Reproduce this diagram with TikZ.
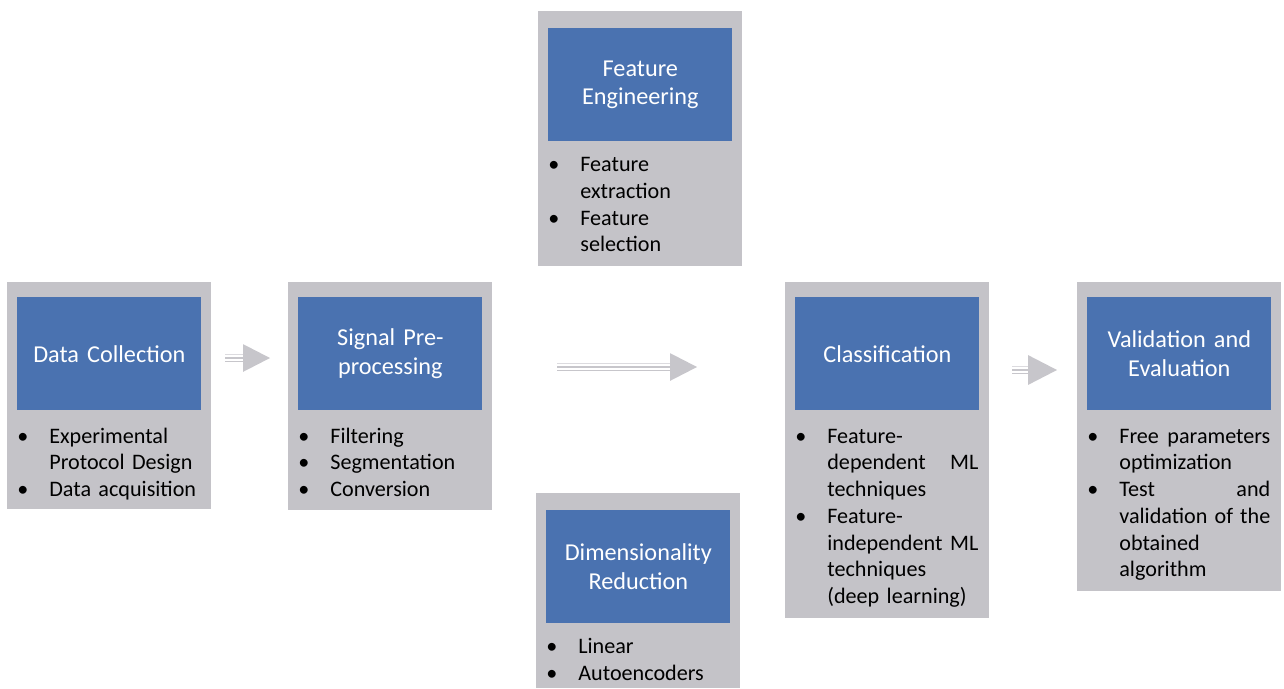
\documentclass[tikz,border=0pt]{standalone}
\usepackage{fontspec}
\setmainfont{Carlito}
\usepackage{xcolor}
\definecolor{stagegrey}{HTML}{C4C3C8}
\definecolor{stageblue}{HTML}{4A72B0}
\definecolor{arrowgrey}{HTML}{C7C6CB}
\definecolor{stripelight}{HTML}{DCDBDF}
\usetikzlibrary{positioning}

% bullet entry, text kept in its own justified column
\newcommand{\bitem}[1]{\par\lineskip=0pt\relax\noindent
  \makebox[0.64cm][l]{\textbullet}\parbox[t]{3.02cm}{\strut#1\strut}\par}
% striped block arrow: tail, tip, head length, head half height
\newcommand{\stripearrow}[4]{%
  \draw[stripe top] ([yshift=2pt]#1) -- ([xshift=-#3,yshift=2pt]#2);
  \draw[stripe] (#1) -- ([xshift=-#3]#2);
  \draw[stripe] ([yshift=-2pt]#1) -- ([xshift=-#3,yshift=-2pt]#2);
  \fill[arrowgrey] (#2) -- ([xshift=-#3,yshift=#4]#2) -- ([xshift=-#3,yshift=-#4]#2) -- cycle;}

\begin{document}
\begin{tikzpicture}[
  stage/.style={fill=stagegrey, anchor=north west, minimum width=4.08cm, inner sep=0pt},
  head/.style={fill=stageblue, text=white, minimum width=3.68cm, minimum height=2.26cm,
               text width=3.5cm, align=center, inner sep=0pt,
               font=\fontsize{13.8}{16.4}\selectfont},
  items/.style={text width=3.66cm, inner sep=0pt,
                font=\fontsize{12.6}{15.2}\selectfont},
  stripe/.style={draw=arrowgrey, line width=1.1pt},
  stripe top/.style={draw=stripelight, line width=1.1pt}
]
  \fill[white] (0,0) rectangle (25.68,-13.76);
  \useasboundingbox (0,0) rectangle (25.68,-13.76);

  % stages
  \node[stage, minimum height=4.54cm] (dc) at (0.14,-5.64) {};
  \node[head, below=0.3cm of dc.north] (dch) {Data Collection};
  \node[items, below=0.11cm of dch.south west, anchor=north west] (dcl)
    {\bitem{Experimental\\Protocol Design}\bitem{Data acquisition}};

  \node[stage, minimum height=4.56cm] (sp) at (5.76,-5.64) {};
  \node[head, below=0.3cm of sp.north] (sph) {Signal Pre-\\processing};
  \node[items, below=0.11cm of sph.south west, anchor=north west] (spl)
    {\bitem{Filtering}\bitem{Segmentation}\bitem{Conversion}};

  \node[stage, minimum height=5.10cm] (fe) at (10.76,-0.22) {};
  \node[head, below=0.34cm of fe.north] (feh) {Feature\\Engineering};
  \node[items, below=0.06cm of feh.south west, anchor=north west] (fel)
    {\bitem{Feature\\extraction}\bitem{Feature\\selection}};

  \node[stage, minimum height=3.90cm] (dr) at (10.72,-9.86) {};
  \node[head, below=0.34cm of dr.north] (drh) {Dimensionality\\Reduction};
  \node[items, below=0.06cm of drh.south west, anchor=north west] (drl)
    {\bitem{Linear}\bitem{Autoencoders}};

  \node[stage, minimum height=6.72cm] (cl) at (15.70,-5.64) {};
  \node[head, below=0.3cm of cl.north] (clh) {Classification};
  \node[items, below=0.11cm of clh.south west, anchor=north west] (cll)
    {\bitem{Feature-\\dependent\hfill ML\\techniques}%
     \bitem{Feature-\\independent\hfill ML\\techniques\\(deep learning)}};

  \node[stage, minimum height=6.18cm] (ve) at (21.54,-5.64) {};
  \node[head, below=0.3cm of ve.north] (veh) {Validation and\\Evaluation};
  \node[items, below=0.11cm of veh.south west, anchor=north west] (vel)
    {\bitem{Free\hfill parameters\\optimization}%
     \bitem{Test\hfill and\\validation\hfill of\hfill the\\obtained\\algorithm}};

  % arrows between stages
  \coordinate (dcsp) at (4.50,-7.16);  \coordinate (dcspTip) at (5.40,-7.16);
  \coordinate (spcl) at (11.14,-7.34); \coordinate (spclTip) at (13.94,-7.34);
  \coordinate (clve) at (20.24,-7.40); \coordinate (clveTip) at (21.14,-7.40);
  \stripearrow{dcsp}{dcspTip}{0.54cm}{7.9pt}
  \stripearrow{spcl}{spclTip}{0.54cm}{7.9pt}
  \stripearrow{clve}{clveTip}{0.58cm}{8.5pt}
\end{tikzpicture}
\end{document}
